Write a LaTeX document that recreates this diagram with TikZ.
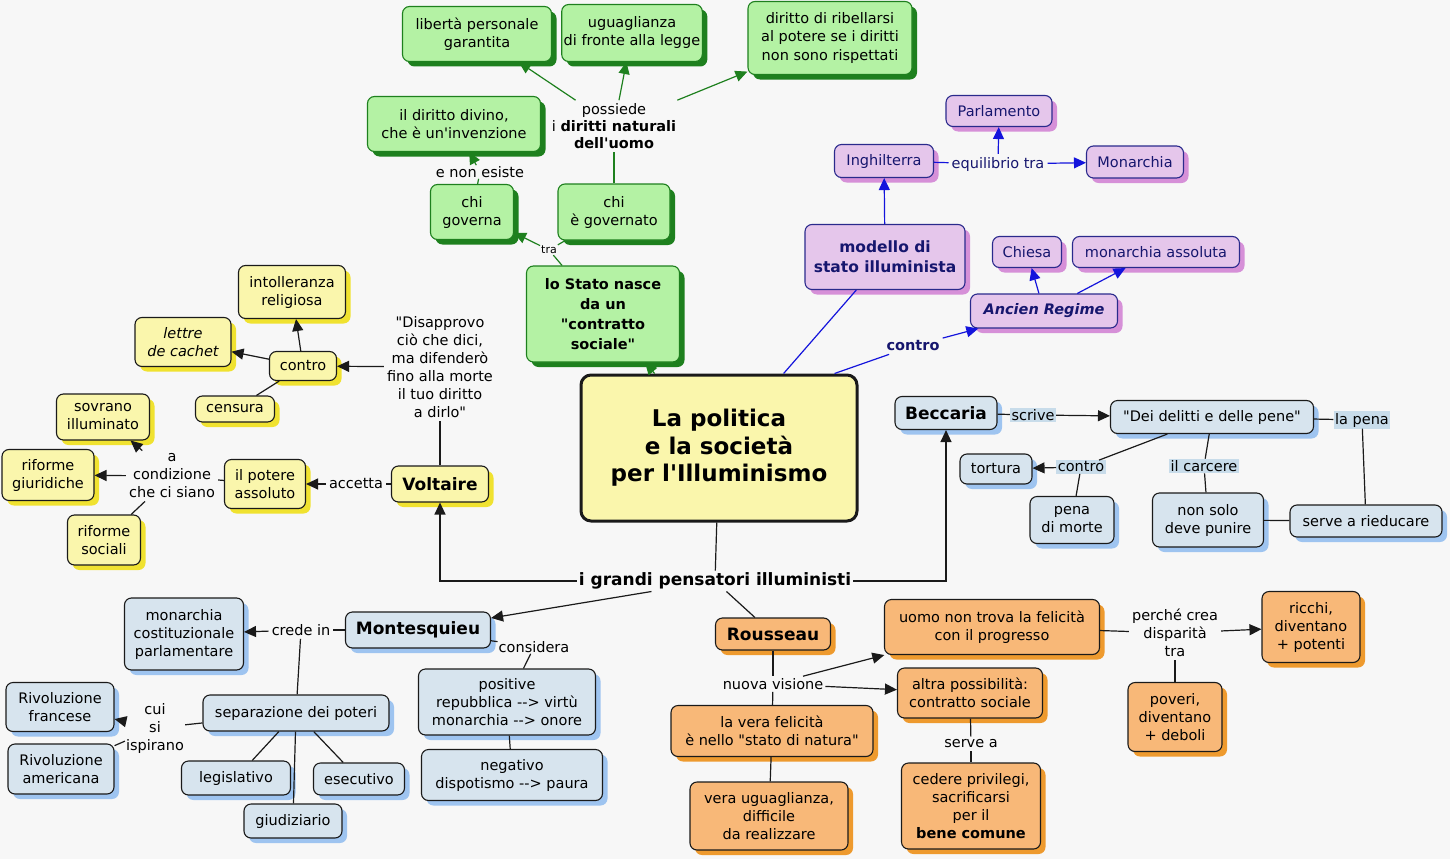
\documentclass[tikz,border=0pt]{standalone}
\usepackage{fontspec}
\setmainfont{DejaVu Sans}
\usetikzlibrary{arrows.meta,shadows}
\definecolor{bg}{HTML}{F7F7F7}
\definecolor{ink}{HTML}{1A1A1A}
\definecolor{gfill}{HTML}{B4F2A4}
\definecolor{gdark}{HTML}{1E801E}
\definecolor{pfill}{HTML}{E5C6EB}
\definecolor{pdraw}{HTML}{2A2A8C}
\definecolor{pshad}{HTML}{D690D8}
\definecolor{ptext}{HTML}{16166E}
\definecolor{pblue}{HTML}{1414DC}
\definecolor{yfill}{HTML}{FAF6AC}
\definecolor{yshad}{HTML}{F0E230}
\definecolor{bfill}{HTML}{D7E4EE}
\definecolor{bshad}{HTML}{9EC4F0}
\definecolor{labblue}{HTML}{C8DCEA}
\definecolor{ofill}{HTML}{F8B878}
\definecolor{oshad}{HTML}{EE9A2E}
\newcommand\nf{\fontsize{14.5}{18}\selectfont}
\newcommand\bigf{\fontsize{17}{20}\selectfont\bfseries}
\newcommand\titf{\fontsize{23}{27.5}\selectfont\bfseries}
\newcommand\gbf{\fontsize{14.5}{20}\selectfont\bfseries}
\newcommand\smf{\fontsize{11}{13}\selectfont}
\newcommand\ap{\textquotesingle}
\newcommand\dq{\textquotedbl}
\newcommand\dashto{-\kern0pt-\kern0pt>}

\begin{document}
\begin{tikzpicture}[x=1pt,y=-1pt,>={Triangle[length=12pt,width=11pt]},
 box/.style={draw,rounded corners=7pt,align=center,inner sep=2pt,font=\nf,line width=1.1pt},
 gbox/.style={box,draw=gdark,fill=gfill,drop shadow={shadow xshift=5pt,shadow yshift=-5pt,fill=gdark,opacity=1}},
 pbox/.style={box,draw=pdraw,fill=pfill,text=ptext,drop shadow={shadow xshift=5pt,shadow yshift=-5pt,fill=pshad,opacity=1}},
 ybox/.style={box,draw=ink,fill=yfill,drop shadow={shadow xshift=5pt,shadow yshift=-5pt,fill=yshad,opacity=1}},
 bbox/.style={box,draw=ink,fill=bfill,drop shadow={shadow xshift=5pt,shadow yshift=-5pt,fill=bshad,opacity=1}},
 obox/.style={box,draw=ink,fill=ofill,drop shadow={shadow xshift=5pt,shadow yshift=-5pt,fill=oshad,opacity=1}},
 lab/.style={align=center,inner sep=3pt,font=\nf},
 blab/.style={lab,fill=labblue,inner sep=1.5pt},
 gline/.style={draw=gdark,line width=1.2pt},
 pline/.style={draw=pblue,line width=1.2pt},
 kline/.style={draw=ink,line width=1.2pt}]
\fill[bg] (0,0) rectangle (1450,859);
\useasboundingbox (0,0) rectangle (1450,859);

\node[box,draw=ink,fill=yfill,line width=3pt,rounded corners=10pt,font=\titf,minimum width=276,minimum height=146] (central) at (719,448) {La politica\\e la società\\per l\ap Illuminismo};
\node[lab,font=\bigf,inner sep=2pt] (grandi) at (715,581) {i grandi pensatori illuministi};

\node[gbox,minimum width=149,minimum height=55] (lib) at (477,34) {libertà personale\\garantita};
\node[gbox,minimum width=135,minimum height=57] (ugu) at (632,33) {uguaglianza\\di fronte alla legge};
\node[gbox,minimum width=164,minimum height=73] (rib) at (830,38) {diritto di ribellarsi\\al potere se i diritti\\non sono rispettati};
\node[gbox,minimum width=173,minimum height=55] (div) at (454,124) {il diritto divino,\\che è un\ap invenzione};
\node[gbox,minimum width=83,minimum height=55] (chig) at (472,212) {chi\\governa};
\node[gbox,minimum width=112,minimum height=56] (chie) at (614,212) {chi\\è governato};
\node[gbox,font=\gbf,minimum width=153,minimum height=96] (stato) at (603,314) {lo Stato nasce\\da un\\\dq contratto\\sociale\dq};
\node[lab,font=\fontsize{14.5}{17}\selectfont] (nat) at (614,126) {possiede\\i \textbf{diritti naturali}\\\textbf{dell\ap uomo}};
\node[lab,inner sep=1pt] (nonex) at (480,172) {e non esiste};
\node[lab,font=\smf,inner sep=1pt] (tra) at (549,250) {tra};

\node[pbox,minimum width=106,minimum height=31] (parl) at (999,111) {Parlamento};
\node[pbox,minimum width=99,minimum height=33] (ingh) at (884,161) {Inghilterra};
\node[pbox,minimum width=97,minimum height=32] (mon) at (1135,162) {Monarchia};
\node[pbox,font=\fontsize{15.5}{20}\selectfont\bfseries,minimum width=160,minimum height=65] (modello) at (885,257) {modello di\\stato illuminista};
\node[pbox,minimum width=69,minimum height=31] (chiesa) at (1027,252) {Chiesa};
\node[pbox,minimum width=167,minimum height=31] (monass) at (1156,252) {monarchia assoluta};
\node[pbox,font=\nf\bfseries\itshape,minimum width=147,minimum height=34] (ancien) at (1044,311) {Ancien Regime};
\node[lab,text=ptext] (equil) at (998,164) {equilibrio tra};
\node[lab,text=ptext,font=\nf\bfseries] (contro) at (913,346) {contro};

\node[ybox,font=\bigf,minimum width=97,minimum height=36] (voltaire) at (440,484) {Voltaire};
\node[ybox,minimum width=107,minimum height=53] (intol) at (292,292) {intolleranza\\religiosa};
\node[ybox,font=\nf\itshape,minimum width=96,minimum height=49] (lettre) at (183,342) {lettre\\de cachet};
\node[ybox,minimum width=67,minimum height=29] (controY) at (303,366) {contro};
\node[ybox,minimum width=79,minimum height=26] (censura) at (235,409) {censura};
\node[ybox,minimum width=93,minimum height=46] (sovrano) at (103,417) {sovrano\\illuminato};
\node[ybox,minimum width=92,minimum height=51] (rgiur) at (48,475) {riforme\\giuridiche};
\node[ybox,minimum width=73,minimum height=50] (rsoc) at (104,540) {riforme\\sociali};
\node[ybox,minimum width=81,minimum height=49] (potere) at (265,484) {il potere\\assoluto};
\node[lab] (quote) at (440,367) {\dq Disapprovo\\ciò che dici,\\ma difenderò\\fino alla morte\\il tuo diritto\\a dirlo\dq};
\node[lab] (accetta) at (356,484) {accetta};
\node[lab] (cond) at (172,476) {a\\condizione\\che ci siano};

\node[bbox,font=\bigf,minimum width=102,minimum height=33] (beccaria) at (946,413) {Beccaria};
\node[bbox,minimum width=203,minimum height=33] (dei) at (1212,417) {\dq Dei delitti e delle pene\dq};
\node[bbox,minimum width=72,minimum height=30] (tortura) at (996,469) {tortura};
\node[bbox,minimum width=84,minimum height=47] (penam) at (1072,520) {pena\\di morte};
\node[bbox,minimum width=111,minimum height=54] (nonsolo) at (1208,520) {non solo\\deve punire};
\node[bbox,minimum width=152,minimum height=32] (rieduc) at (1366,521) {serve a rieducare};
\node[blab] (scrive) at (1033,415) {scrive};
\node[blab] (controB) at (1081,467) {contro};
\node[blab] (carcere) at (1204,466) {il carcere};
\node[blab] (lapena) at (1362,420) {la pena};

\node[bbox,font=\bigf,minimum width=145,minimum height=36] (montesq) at (418,630) {Montesquieu};
\node[bbox,minimum width=119,minimum height=72] (monC) at (184,634) {monarchia\\costituzionale\\parlamentare};
\node[bbox,minimum width=186,minimum height=36] (separ) at (296,713) {separazione dei poteri};
\node[bbox,minimum width=108,minimum height=49] (rivf) at (60,707) {Rivoluzione\\francese};
\node[bbox,minimum width=106,minimum height=50] (riva) at (61,769) {Rivoluzione\\americana};
\node[bbox,minimum width=109,minimum height=34] (legis) at (236,778) {legislativo};
\node[bbox,minimum width=91,minimum height=32] (esec) at (359,779) {esecutivo};
\node[bbox,minimum width=98,minimum height=34] (giud) at (293,821) {giudiziario};
\node[bbox,minimum width=177,minimum height=66] (posit) at (507,702) {positive\\repubblica \dashto{} virtù\\monarchia \dashto{} onore};
\node[bbox,minimum width=181,minimum height=51] (negat) at (512,775) {negativo\\dispotismo \dashto{} paura};
\node[lab] (credein) at (301,630) {crede in};
\node[lab,inner sep=1pt] (considera) at (534,647) {considera};
\node[lab,inner sep=1pt] (cui) at (155,728) {cui\\si\\ispirano};

\node[obox,font=\bigf,minimum width=115,minimum height=32] (rousseau) at (773,634) {Rousseau};
\node[obox,minimum width=215,minimum height=55] (uomo) at (992,627) {uomo non trova la felicità\\con il progresso};
\node[obox,minimum width=145,minimum height=50] (altra) at (970,693) {altra possibilità:\\contratto sociale};
\node[obox,minimum width=202,minimum height=51] (vera) at (772,731) {la vera felicità\\è nello \dq stato di natura\dq};
\node[obox,minimum width=158,minimum height=68] (verau) at (769,816) {vera uguaglianza,\\difficile\\da realizzare};
\node[obox,minimum width=139,minimum height=86] (cedere) at (971,806) {cedere privilegi,\\sacrificarsi\\per il\\\textbf{bene comune}};
\node[obox,minimum width=98,minimum height=71] (ricchi) at (1311,627) {ricchi,\\diventano\\+ potenti};
\node[obox,minimum width=94,minimum height=69] (poveri) at (1175,717) {poveri,\\diventano\\+ deboli};
\node[lab,inner sep=2pt] (nuova) at (773,684) {nuova visione};
\node[lab] (servea) at (971,744) {serve a};
\node[lab] (perche) at (1175,633) {perché crea\\disparità\\tra};

\draw[gline,->] (nat)--(lib); \draw[gline,->] (nat)--(ugu); \draw[gline,->] (nat)--(rib);
\draw[gline] (chie)--(nat); \draw[gline] (chig)--(nonex); \draw[gline,->] (nonex)--(div);
\draw[gline] (stato)--(tra); \draw[gline,->] (tra)--(chig); \draw[gline] (tra)--(chie);
\draw[gline,->] (central)--(stato);

\draw[pline,->] (modello)--(ingh); \draw[pline] (ingh)--(equil);
\draw[pline,->] (equil)--(parl); \draw[pline,->] (equil)--(mon);
\draw[pline] (central)--(modello); \draw[pline] ([xshift=-24pt]central.north east)--(contro);
\draw[pline,->] (contro)--(ancien); \draw[pline,->] (ancien)--(chiesa); \draw[pline,->] (ancien)--(monass);

\draw[kline] (central)--(grandi);
\draw[kline,->] (grandi.west) -| (voltaire); \draw[kline,->] (grandi.east) -| (beccaria);
\draw[kline,->] (grandi)--(montesq); \draw[kline] (grandi)--(rousseau);

\draw[kline] (voltaire)--(quote); \draw[kline,->] (quote)--(controY);
\draw[kline,->] (controY)--(intol); \draw[kline,->] (controY)--(lettre); \draw[kline] (controY)--(censura);
\draw[kline] (voltaire)--(accetta); \draw[kline,->] (accetta)--(potere);
\draw[kline] (potere)--(cond); \draw[kline,->] (cond)--(rgiur);
\draw[kline,->] (cond)--(sovrano); \draw[kline] (cond)--(rsoc);

\draw[kline] (beccaria)--(scrive); \draw[kline,->] (scrive)--(dei);
\draw[kline] (dei)--(controB); \draw[kline,->] (controB)--(tortura); \draw[kline] (penam)--(controB);
\draw[kline] (dei)--(carcere); \draw[kline] (carcere)--(nonsolo);
\draw[kline] (dei)--(lapena); \draw[kline] (lapena)--(rieduc); \draw[kline] (nonsolo)--(rieduc);

\draw[kline] (montesq)--(credein); \draw[kline,->] (credein)--(monC); \draw[kline] (credein)--(separ);
\draw[kline] (separ)--(cui); \draw[kline,->] (cui)--(rivf); \draw[kline] (cui)--(riva);
\draw[kline] (separ)--(legis); \draw[kline] (separ)--(giud); \draw[kline] (separ)--(esec);
\draw[kline] (montesq)--(considera); \draw[kline] (considera)--(posit); \draw[kline] (posit)--(negat);

\draw[kline] (rousseau)--(nuova); \draw[kline] (nuova)--(vera);
\draw[kline,->] (nuova)--(uomo); \draw[kline,->] (nuova)--(altra);
\draw[kline] (vera)--(verau); \draw[kline] (altra)--(servea); \draw[kline] (servea)--(cedere);
\draw[kline] (uomo)--(perche); \draw[kline,->] (perche)--(ricchi); \draw[kline] (perche)--(poveri);
\end{tikzpicture}
\end{document}
